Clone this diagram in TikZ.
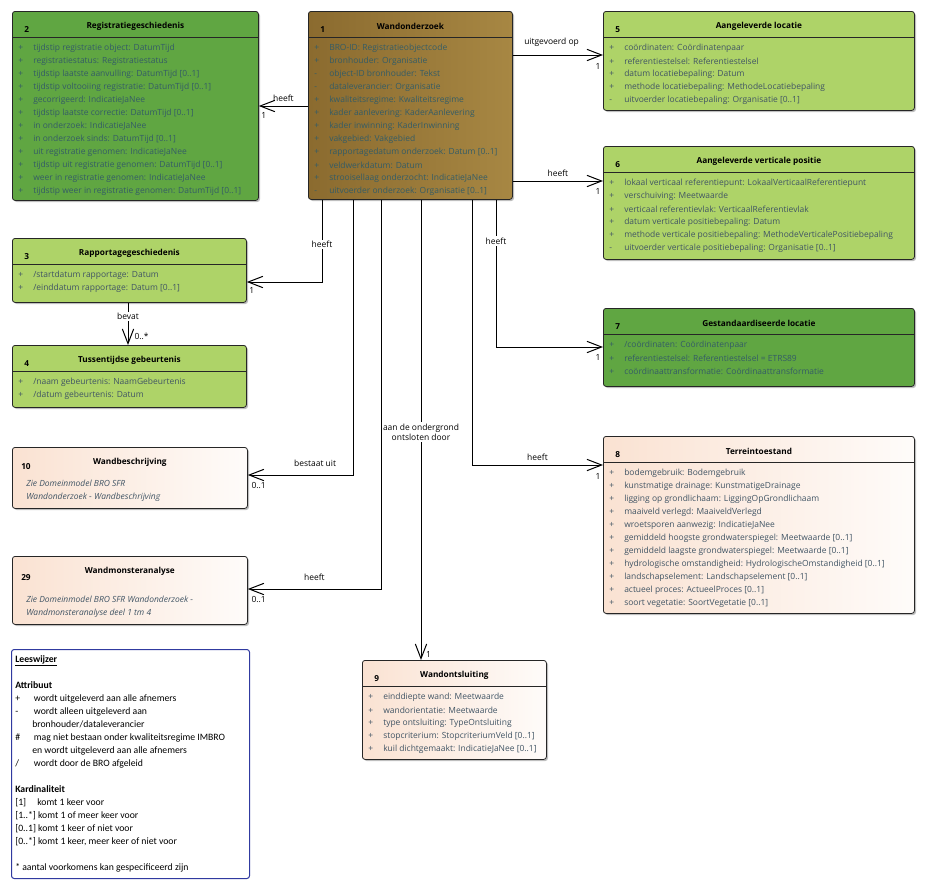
\documentclass[tikz,border=0pt]{standalone}
\usepackage{fontspec}
\usetikzlibrary{arrows.meta,calc,shadows}
\newfontfamily\uifont{Open Sans}
\newfontfamily\legfont{Carlito}
\definecolor{donkergroen}{RGB}{96,166,66}
\definecolor{lichtgroen}{RGB}{174,211,104}
\definecolor{bruinL}{RGB}{139,107,47}
\definecolor{bruinR}{RGB}{167,135,67}
\definecolor{perzik}{RGB}{250,226,210}
\definecolor{attrkleur}{RGB}{64,84,100}
\definecolor{attrlicht}{RGB}{52,92,102}
\definecolor{legrand}{RGB}{48,58,160}

\begin{document}
\begin{tikzpicture}[x=0.75pt, y=-0.75pt,
  klasse/.style={draw=black!85, line width=0.6pt, rounded corners=2pt, anchor=north west, inner sep=0pt,
    drop shadow={shadow xshift=1.2pt, shadow yshift=-1.2pt, opacity=.25, fill=black}},
  sz/.style 2 args={minimum width=#1*0.75pt, minimum height=#2*0.75pt},
  perzikvlak/.style={left color=perzik, right color=perzik!12},
  titel/.style={font=\uifont\bfseries\fontsize{6.2}{8}\selectfont, inner sep=0pt},
  nr/.style={font=\uifont\bfseries\fontsize{6.2}{8}\selectfont, inner sep=0pt, anchor=west},
  attr/.style={font=\uifont\fontsize{6.35}{8}\selectfont, text=attrkleur, inner sep=0pt, anchor=west},
  attrd/.style={attr, text=attrlicht},
  noot/.style={font=\uifont\itshape\fontsize{6.35}{9.75}\selectfont, text=attrkleur, inner sep=0pt, anchor=west, align=left},
  lbl/.style={font=\uifont\fontsize{6.35}{8}\selectfont, inner sep=1pt},
  mult/.style={font=\uifont\fontsize{6.35}{8}\selectfont, inner sep=1.5pt},
  assoc/.style={line width=0.75pt, -{Straight Barb[length=11pt,width=8.5pt]}},
]
\useasboundingbox (0,0) rectangle (925,890);

% klassen
\node[klasse, sz={246}{189}, fill=donkergroen] (reg) at (12,11) {};
\node[klasse, sz={204}{188}, left color=bruinL, right color=bruinR] (wand) at (308,11) {};
\node[klasse, sz={311}{99}, fill=lichtgroen] (lok) at (603,11) {};
\node[klasse, sz={311}{113}, fill=lichtgroen] (vert) at (603,146) {};
\node[klasse, sz={311}{78}, fill=donkergroen] (std) at (603,308) {};
\node[klasse, sz={311}{177}, perzikvlak] (terr) at (603,436) {};
\node[klasse, sz={234}{64}, fill=lichtgroen] (rapp) at (12,238) {};
\node[klasse, sz={234}{62}, fill=lichtgroen] (geb) at (12,345) {};
\node[klasse, sz={235}{61}, perzikvlak] (besch) at (12,447) {};
\node[klasse, sz={235}{68}, perzikvlak] (mon) at (12,556) {};
\node[klasse, sz={184}{99}, perzikvlak] (onts) at (362,660) {};

% kop: nummer, naam, scheidingslijn
\foreach \b/\n/\naam in {reg/2/Registratiegeschiedenis, wand/1/Wandonderzoek,
    lok/5/Aangeleverde locatie, vert/6/Aangeleverde verticale positie,
    std/7/Gestandaardiseerde locatie, terr/8/Terreintoestand,
    rapp/3/Rapportagegeschiedenis, geb/4/Tussentijdse gebeurtenis, onts/9/Wandontsluiting}{
  \node[nr] (\b-nr) at ($(\b.north west)+(12,19)$) {\n};
  \node[titel] (\b-titel) at ($(\b.north)+(0,15)$) {\naam};
  \draw[line width=0.6pt, black!85] ($(\b.north west)+(0,26.5)$) -- ($(\b.north east)+(0,26.5)$);
}
\node[nr] (besch-nr) at ($(besch.north west)+(9,20)$) {10};
\node[titel] (besch-titel) at ($(besch.north)+(0,15)$) {Wandbeschrijving};
\node[noot] (besch-noot) at ($(besch.north west)+(14,44)$) {Zie Domeinmodel BRO SFR\\Wandonderzoek - Wandbeschrijving};
\node[nr] (mon-nr) at ($(mon.north west)+(9,22)$) {29};
\node[titel] (mon-titel) at ($(mon.north)+(0,15)$) {Wandmonsteranalyse};
\node[noot] (mon-noot) at ($(mon.north west)+(14,51)$) {Zie Domeinmodel BRO SFR Wandonderzoek -\\Wandmonsteranalyse deel 1 tm 4};

% attributen
\foreach \tk/\tx [count=\i] in {+/tijdstip registratie object: DatumTijd, +/registratiestatus: Registratiestatus,
    +/tijdstip laatste aanvulling: DatumTijd [0..1], +/tijdstip voltooiing registratie: DatumTijd [0..1],
    +/gecorrigeerd: IndicatieJaNee, +/tijdstip laatste correctie: DatumTijd [0..1],
    +/in onderzoek: IndicatieJaNee, +/in onderzoek sinds: DatumTijd [0..1],
    +/uit registratie genomen: IndicatieJaNee, +/tijdstip uit registratie genomen: DatumTijd [0..1],
    +/weer in registratie genomen: IndicatieJaNee, +/tijdstip weer in registratie genomen: DatumTijd [0..1]}
  \node[attrd] (reg-a\i) at ($(reg.north west)+(6,24+13*\i)$) {\makebox[11.25pt][l]{\tk}\tx};
\foreach \tk/\tx [count=\i] in {+/BRO-ID: Registratieobjectcode, +/bronhouder: Organisatie,
    -/object-ID bronhouder: Tekst, -/dataleverancier: Organisatie, +/kwaliteitsregime: Kwaliteitsregime,
    +/kader aanlevering: KaderAanlevering, +/kader inwinning: KaderInwinning, +/vakgebied: Vakgebied,
    +/rapportagedatum onderzoek: Datum [0..1], +/veldwerkdatum: Datum,
    +/strooisellaag onderzocht: IndicatieJaNee, -/uitvoerder onderzoek: Organisatie [0..1]}
  \node[attrd] (wand-a\i) at ($(wand.north west)+(6,24+13*\i)$) {\makebox[11.25pt][l]{\tk}\tx};
\foreach \tk/\tx [count=\i] in {+/coördinaten: Coördinatenpaar, +/referentiestelsel: Referentiestelsel,
    +/datum locatiebepaling: Datum, +/methode locatiebepaling: MethodeLocatiebepaling,
    -/uitvoerder locatiebepaling: Organisatie [0..1]}
  \node[attr] (lok-a\i) at ($(lok.north west)+(6,24+13*\i)$) {\makebox[11.25pt][l]{\tk}\tx};
\foreach \tk/\tx [count=\i] in {+/lokaal verticaal referentiepunt: LokaalVerticaalReferentiepunt,
    +/verschuiving: Meetwaarde, +/verticaal referentievlak: VerticaalReferentievlak,
    +/datum verticale positiebepaling: Datum,
    +/methode verticale positiebepaling: MethodeVerticalePositiebepaling,
    -/uitvoerder verticale positiebepaling: Organisatie [0..1]}
  \node[attr] (vert-a\i) at ($(vert.north west)+(6,24+13*\i)$) {\makebox[11.25pt][l]{\tk}\tx};
\foreach \tk/\tx [count=\i] in {+/{/coördinaten: Coördinatenpaar},
    +/referentiestelsel: Referentiestelsel = ETRS89, +/coördinaattransformatie: Coördinaattransformatie}
  \node[attrd] (std-a\i) at ($(std.north west)+(6,24+13*\i)$) {\makebox[11.25pt][l]{\tk}\tx};
\foreach \tk/\tx [count=\i] in {+/bodemgebruik: Bodemgebruik, +/kunstmatige drainage: KunstmatigeDrainage,
    +/ligging op grondlichaam: LiggingOpGrondlichaam, +/maaiveld verlegd: MaaiveldVerlegd,
    +/wroetsporen aanwezig: IndicatieJaNee, +/gemiddeld hoogste grondwaterspiegel: Meetwaarde [0..1],
    +/gemiddeld laagste grondwaterspiegel: Meetwaarde [0..1],
    +/hydrologische omstandigheid: HydrologischeOmstandigheid [0..1],
    +/landschapselement: Landschapselement [0..1], +/actueel proces: ActueelProces [0..1],
    +/soort vegetatie: SoortVegetatie [0..1]}
  \node[attr] (terr-a\i) at ($(terr.north west)+(6,24+13*\i)$) {\makebox[11.25pt][l]{\tk}\tx};
\foreach \tk/\tx [count=\i] in {+/{/startdatum rapportage: Datum}, +/{/einddatum rapportage: Datum [0..1]}}
  \node[attr] (rapp-a\i) at ($(rapp.north west)+(6,24+13*\i)$) {\makebox[11.25pt][l]{\tk}\tx};
\foreach \tk/\tx [count=\i] in {+/{/naam gebeurtenis: NaamGebeurtenis}, +/{/datum gebeurtenis: Datum}}
  \node[attr] (geb-a\i) at ($(geb.north west)+(6,24+13*\i)$) {\makebox[11.25pt][l]{\tk}\tx};
\foreach \tk/\tx [count=\i] in {+/einddiepte wand: Meetwaarde, +/wandorientatie: Meetwaarde,
    +/type ontsluiting: TypeOntsluiting, +/stopcriterium: StopcriteriumVeld [0..1],
    +/kuil dichtgemaakt: IndicatieJaNee [0..1]}
  \node[attr] (onts-a\i) at ($(onts.north west)+(6,24+13*\i)$) {\makebox[11.25pt][l]{\tk}\tx};

% associaties
\draw[assoc] (wand.west |- 0,106) -- node[lbl, above=2pt] (l-reg) {heeft}
  (reg.east |- 0,106) node[mult, below right, yshift=-3pt] (m-reg) {1};
\draw[assoc] (wand.east |- 0,55) -- node[lbl, above=5pt, pos=.43] (l-lok) {uitgevoerd op}
  (lok.west |- 0,55) node[mult, below left, yshift=-4.5pt] (m-lok) {1};
\draw[assoc] (wand.east |- 0,181) -- node[lbl, above=2pt] (l-vert) {heeft}
  (vert.west |- 0,181) node[mult, below left, yshift=-4pt] (m-vert) {1};
\draw[assoc] (wand.south -| 322,0) |- node[lbl, fill=white, pos=.27] (l-rapp) {heeft}
  (rapp.east |- 0,282) node[mult, below right, yshift=-2.5pt] (m-rapp) {1};
\draw[assoc] (wand.south -| 496,0) |- node[lbl, fill=white, pos=.14] (l-std) {heeft}
  (std.west |- 0,347) node[mult, below left, yshift=-4pt] (m-std) {1};
\draw[assoc] (wand.south -| 472,0) |- node[lbl, above=2pt, pos=.75] (l-terr) {heeft}
  (terr.west |- 0,465) node[mult, below left, yshift=-4.5pt] (m-terr) {1};
\draw[assoc] (wand.south -| 353,0) |- node[lbl, above=5pt, pos=.68] (l-besch) {bestaat uit}
  (besch.east |- 0,475) node[mult, below right, yshift=-3.5pt, xshift=1pt] (m-besch) {0..1};
\draw[assoc] (wand.south -| 381,0) |- node[lbl, above=5pt, pos=.75] (l-mon) {heeft}
  (mon.east |- 0,589) node[mult, below right, yshift=-3.5pt, xshift=1pt] (m-mon) {0..1};
\draw[assoc] (wand.south -| 421,0) -- node[lbl, fill=white, align=center, pos=.505] (l-onts) {aan de ondergrond\\ontsloten door}
  (onts.north -| 421,0) node[mult, above right, xshift=2pt] (m-onts) {1};
\draw[assoc] (rapp.south -| 128,0) -- node[lbl, fill=white, pos=.33] (l-geb) {bevat}
  (geb.north -| 128,0) node[mult, above right, xshift=3pt, yshift=2pt] (m-geb) {0..*};

% leeswijzer
\node[draw=legrand, line width=0.75pt, rounded corners=2pt, fill=white, anchor=north west, sz={238}{229}] (lees) at (11,649) {};
\node[anchor=north west, inner sep=0pt, align=left, font=\legfont\fontsize{7.3}{9.75}\selectfont] (lees-tekst) at (15,655) {%
\underline{\textbf{Leeswijzer}}\\ \mbox{}\\
\textbf{Attribuut}\\
\makebox[14pt][l]{+}wordt uitgeleverd aan alle afnemers\\
\makebox[14pt][l]{-}wordt alleen uitgeleverd aan\\
\hspace*{12.75pt}bronhouder/dataleverancier\\
\makebox[14pt][l]{\#}mag niet bestaan onder kwaliteitsregime IMBRO\\
\hspace*{12.75pt}en wordt uitgeleverd aan alle afnemers\\
\makebox[14pt][l]{/}wordt door de BRO afgeleid\\ \mbox{}\\
\textbf{Kardinaliteit}\\
\makebox[16.5pt][l]{[1]}komt 1 keer voor\\
{[1..*]} komt 1 of meer keer voor\\
{[0..1]} komt 1 keer of niet voor\\
{[0..*]} komt 1 keer, meer keer of niet voor\\ \mbox{}\\
{*} aantal voorkomens kan gespecificeerd zijn};
\end{tikzpicture}
\end{document}
